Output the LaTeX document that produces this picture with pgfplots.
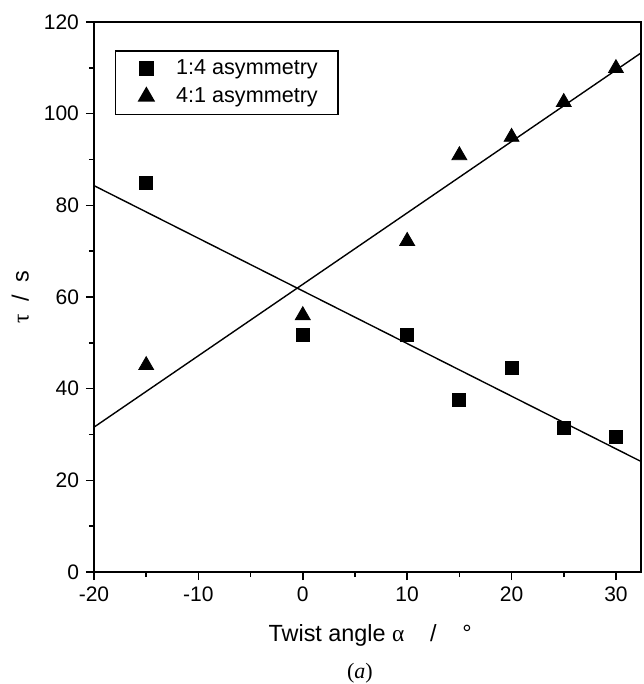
\documentclass[border=0pt]{standalone}
\usepackage{fontspec}
\setmainfont{Liberation Sans}
\newfontfamily\serif{Liberation Serif}
\usepackage{pgfplots}
\pgfplotsset{compat=1.18}
\pgfplotsset{markleg/.style={legend image code/.code={\path (-7pt,0) (11pt,0); \draw[##1] plot coordinates {(0pt,0pt)};}}}
\begin{document}
\begin{tikzpicture}
\begin{axis}[
  scale only axis,
  width=273.5pt, height=275pt,
  xmin=-20, xmax=32.4, ymin=0, ymax=120,
  xtick={-20,-10,0,10,20,30},
  xticklabels={-20,-10,0,10,20,30},
  ytick={0,20,...,120},
  minor x tick num=1, minor y tick num=1,
  tick align=outside, xtick pos=bottom, ytick pos=left,
  major tick length=4pt, minor tick length=2.5pt,
  every tick/.style={black, line width=0.8pt},
  axis line style={line width=1pt},
  tick label style={font=\fontsize{10.5}{12}\selectfont},
  /pgf/number format/assume math mode=true,
  xlabel={Twist angle {\serif α}\hspace{1.1em}/\hspace{1.1em}°},
  xlabel style={at={(axis description cs:0.505,-0.115)}, anchor=center, font=\fontsize{11.7}{13}\selectfont},
  ylabel={{\serif τ}\hspace{0.55em}/\hspace{0.55em}s},
  ylabel style={at={(axis description cs:-0.135,0.5)}, anchor=center, font=\fontsize{11.7}{13}\selectfont},
  legend style={at={(axis description cs:0.038,0.949)}, anchor=north west,
    draw=black, line width=0.8pt, font=\fontsize{10.8}{13}\selectfont,
    inner xsep=8pt, inner ysep=2.5pt, row sep=1pt, column sep=1.5pt},
  legend cell align=left,
]
\addplot[only marks, mark=square*, mark size=3.25pt, black, markleg]
  coordinates {(-15,84.8) (0,51.8) (10,51.8) (15,37.5) (20,44.5) (25,31.4) (30,29.4)};
\addlegendentry{1:4 asymmetry}
\addplot[only marks, mark=triangle*, mark size=4.3pt, black, markleg]
  coordinates {(-15,45.1) (0,56) (10,72.2) (15,90.9) (20,94.9) (25,102.5) (30,109.9)};
\addlegendentry{4:1 asymmetry}
\addplot[black, line width=0.7pt, forget plot] coordinates {(-20,84.3) (32.5,24.0)};
\addplot[black, line width=0.7pt, forget plot] coordinates {(-20,31.6) (32.5,113.4)};
\coordinate (sw) at (rel axis cs:0,0);
\coordinate (ne) at (rel axis cs:1,1);
\coordinate (cap) at (rel axis cs:0.486,0);
\end{axis}
\node[font=\serif\fontsize{11}{13}\selectfont] at ([yshift=-50.5pt]cap) {(\textit{a})};
\pgfresetboundingbox
\path ([shift={(-47pt,-56pt)}]sw) rectangle ([shift={(1pt,11pt)}]ne);
\end{tikzpicture}
\end{document}
